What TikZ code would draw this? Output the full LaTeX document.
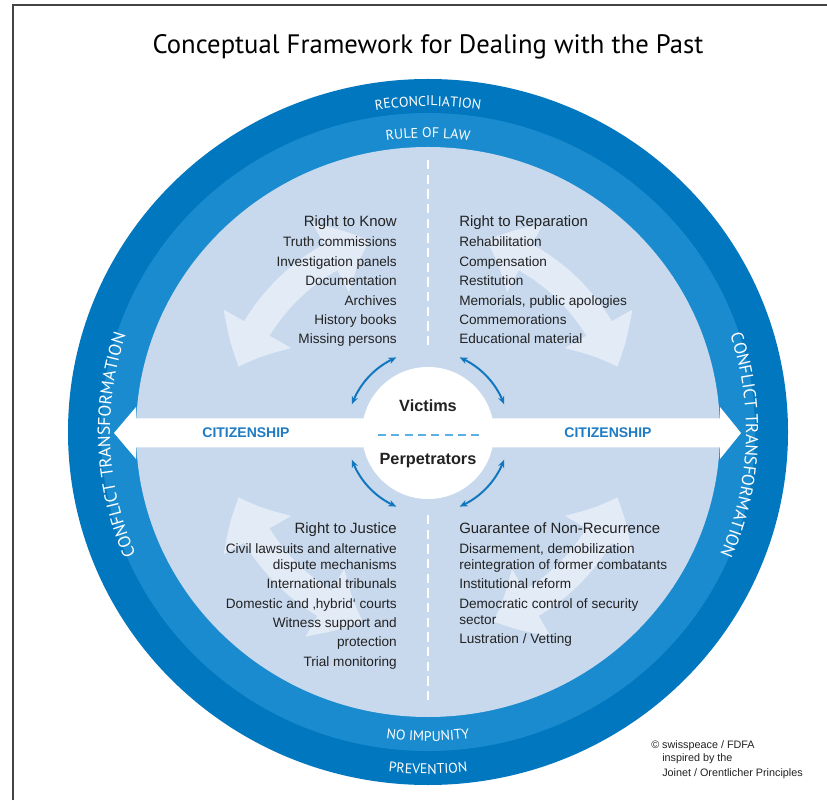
\documentclass[tikz,border=0pt]{standalone}
\usepackage{fontspec}
\setmainfont{Liberation Sans}
\newfontfamily\ringfont{PT Sans}
\newfontfamily\ringfontsp[LetterSpace=3]{PT Sans}
\usetikzlibrary{arrows.meta,bending,decorations.text}
\definecolor{darkring}{HTML}{0077BE}
\definecolor{midring}{HTML}{198BCE}
\definecolor{lightfill}{HTML}{C8D9EE}
\definecolor{paleclr}{HTML}{E3EBF7}
\definecolor{arrowblue}{HTML}{1377BD}
\definecolor{citiblue}{HTML}{1E7BC4}
\definecolor{dashblue}{HTML}{5BB0E3}
\definecolor{textdark}{HTML}{222222}
\definecolor{framegray}{HTML}{444444}
\begin{document}
\begin{tikzpicture}[x=0.75pt,y=0.75pt,
  item/.style={font=\fontsize{10.2}{12}\selectfont, text=textdark, inner sep=0pt},
  head/.style={font=\fontsize{11.2}{13}\selectfont, text=textdark, inner sep=0pt},
  itemR/.style={item, anchor=base east},
  itemL/.style={item, anchor=base west},
  headR/.style={head, anchor=base east},
  headL/.style={head, anchor=base west},
  centertxt/.style={font=\bfseries\fontsize{12.2}{14}\selectfont, text=textdark, inner sep=0pt, anchor=base},
  citi/.style={font=\bfseries\fontsize{10.5}{12}\selectfont, text=citiblue, inner sep=0pt, anchor=base},
  credit/.style={font=\fontsize{8.1}{9}\selectfont, text=textdark, inner sep=0pt, anchor=base west},
  bigpale/.style={draw=paleclr, line width=22pt, {Triangle[width=56pt,length=32pt,bend]}-{Triangle[width=56pt,length=32pt,bend]}},
  smallarr/.style={draw=arrowblue, line width=1.5pt, {Stealth[length=6pt,width=5pt,bend]}-{Stealth[length=6pt,width=5pt,bend]}},
  ringsmall/.style={decorate, decoration={text along path, text align=center, text color=white,
      text={|\ringfont\fontsize{10.5}{12}\selectfont|#1}}},
  ringbig/.style={decorate, decoration={text along path, text align=center, text color=white,
      text={|\ringfontsp\fontsize{13}{15}\selectfont|#1}}}
]
\useasboundingbox (0,0) rectangle (827,800);
\fill[white] (0,0) rectangle (827,800);
\coordinate (C) at (428,368);
% frame
\coordinate (fa) at (13,0);
\coordinate (fb) at (13,795);
\coordinate (fc) at (827,795);
\draw[framegray, line width=1.1pt] (fa) -- (fb) -- (fc);
% title
\node[font=\ringfont\fontsize{20}{24}\selectfont, text=black] (title) at (428,753) {Conceptual Framework for Dealing with the Past};
% rings
\fill[darkring] (C) ellipse [x radius=360, y radius=353];
\fill[midring] (C) ellipse [x radius=327, y radius=319];
\fill[lightfill] (C) ellipse [x radius=292, y radius=285];
% big pale arrows
\draw[bigpale] (C) ++(73:200) arc[start angle=73, end angle=19, radius=200];
\draw[bigpale] (C) ++(107:200) arc[start angle=107, end angle=161, radius=200];
\draw[bigpale] (C) ++(199:200) arc[start angle=199, end angle=251, radius=200];
\draw[bigpale] (C) ++(289:200) arc[start angle=289, end angle=341, radius=200];
% vertical dashed line
\coordinate (v1) at (428,640);
\coordinate (v2) at (428,450);
\coordinate (v3) at (428,285);
\coordinate (v4) at (428,95);
\draw[white, line width=1.5pt, dash pattern=on 7pt off 4pt] (v1) -- (v2);
\draw[white, line width=1.5pt, dash pattern=on 7pt off 4pt] (v3) -- (v4);
% citizenship band
\fill[white] (114,367) -- (136,393) -- (136,381.5) -- (720,381.5) -- (720,393) -- (741,367)
  -- (720,341) -- (720,352.5) -- (136,352.5) -- (136,341) -- cycle;
% center circle
\node[circle, fill=white, minimum size=132*0.75pt, inner sep=0pt] (cc) at (428,367) {};
\coordinate (d1) at (378,365);
\coordinate (d2) at (480,365);
\draw[dashblue, line width=1.3pt, dash pattern=on 6pt off 4pt] (d1) -- (d2);
\node[centertxt] (victims) at (428,388) {Victims};
\node[centertxt] (perp) at (428,335) {Perpetrators};
% small blue double arrows
\draw[smallarr] (C) ++(160:81) arc[start angle=160, end angle=113, radius=81];
\draw[smallarr] (C) ++(67:81) arc[start angle=67, end angle=20, radius=81];
\draw[smallarr] (C) ++(200:81) arc[start angle=200, end angle=247, radius=81];
\draw[smallarr] (C) ++(293:81) arc[start angle=293, end angle=340, radius=81];
% citizenship labels
\node[citi] (citL) at (246,362) {CITIZENSHIP};
\node[citi] (citR) at (608,362) {CITIZENSHIP};
% top-left
\node[headR] (tl0) at (397,573) {Right to Know};
\node[itemR] (tl1) at (397,553) {Truth commissions};
\node[itemR] (tl2) at (397,533.5) {Investigation panels};
\node[itemR] (tl3) at (397,514) {Documentation};
\node[itemR] (tl4) at (397,494.5) {Archives};
\node[itemR] (tl5) at (397,475) {History books};
\node[itemR] (tl6) at (397,456) {Missing persons};
% top-right
\node[headL] (tr0) at (459,573) {Right to Reparation};
\node[itemL] (tr1) at (459,553) {Rehabilitation};
\node[itemL] (tr2) at (459,533.5) {Compensation};
\node[itemL] (tr3) at (459,514) {Restitution};
\node[itemL] (tr4) at (459,494.5) {Memorials, public apologies};
\node[itemL] (tr5) at (459,475) {Commemorations};
\node[itemL] (tr6) at (459,456) {Educational material};
% bottom-left
\node[headR] (bl0) at (397,267) {Right to Justice};
\node[itemR] (bl1) at (397,246.5) {Civil lawsuits and alternative};
\node[itemR] (bl2) at (397,230.5) {dispute mechanisms};
\node[itemR] (bl3) at (397,211.5) {International tribunals};
\node[itemR] (bl4) at (397,191.5) {Domestic and ‚hybrid‘ courts};
\node[itemR] (bl5) at (397,172.5) {Witness support and};
\node[itemR] (bl6) at (397,153.5) {protection};
\node[itemR] (bl7) at (397,133.5) {Trial monitoring};
% bottom-right
\node[headL] (br0) at (459,267) {Guarantee of Non-Recurrence};
\node[itemL] (br1) at (459,246.5) {Disarmement, demobilization};
\node[itemL] (br2) at (459,230.5) {reintegration of former combatants};
\node[itemL] (br3) at (459,211.5) {Institutional reform};
\node[itemL] (br4) at (459,191.5) {Democratic control of security};
\node[itemL] (br5) at (459,175.5) {sector};
\node[itemL] (br6) at (459,156.5) {Lustration / Vetting};
% ring labels
\path[ringsmall={RECONCILIATION}] (C) ++(150:326) arc[start angle=150, end angle=30, radius=326];
\path[ringsmall={RULE OF LAW}] (C) ++(150:294) arc[start angle=150, end angle=30, radius=294];
\path[ringsmall={NO IMPUNITY}] (C) ++(210:309) arc[start angle=210, end angle=330, radius=309];
\path[ringsmall={PREVENTION}] (C) ++(210:342) arc[start angle=210, end angle=330, radius=342];
\path[ringbig={CONFLICT TRANSFORMATION}] (C) ++({318*cos(215)},{310*sin(215)}) arc[start angle=215, end angle=150, x radius=318, y radius=310];
\path[ringbig={CONFLICT TRANSFORMATION}] (C) ++({318*cos(30)},{310*sin(30)}) arc[start angle=30, end angle=-35, x radius=318, y radius=310];
% credit
\node[credit] (cr1) at (651,52) {© swisspeace / FDFA};
\node[credit] (cr2) at (662,39) {inspired by the};
\node[credit] (cr3) at (662,24) {Joinet / Orentlicher Principles};
\end{tikzpicture}
\end{document}
